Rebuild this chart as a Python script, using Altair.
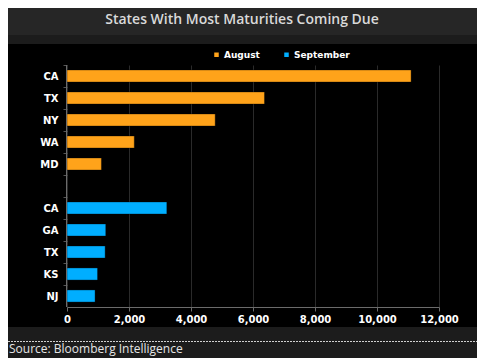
import altair as alt
import pandas as pd

title_text = "States With Most Maturities Coming Due"
source_text = "Source: Bloomberg Intelligence"
months = ["August", "September"]
month_colors = ["#FFA31A", "#00AEFF"]
aug_states = ["CA", "TX", "NY", "WA", "MD"]
aug_values = [11100, 6370, 4780, 2170, 1110]
sep_states = ["CA", "GA", "TX", "KS", "NJ"]
sep_values = [3220, 1250, 1230, 985, 905]
x_ticks = [0, 2000, 4000, 6000, 8000, 10000, 12000]

rows = []
for s, v in zip(aug_states, aug_values):
    rows.append({"key": s, "month": "August", "value": v})
for s, v in zip(sep_states, sep_values):
    rows.append({"key": s + " ", "month": "September", "value": v})
df = pd.DataFrame(rows)
y_domain = list(aug_states) + [" "] + [s + " " for s in sep_states]

W, H = 372, 242
PAD = {"left": 59, "top": 57, "right": 38, "bottom": 51}
LABEL_FONT = "DejaVu Sans"
one = pd.DataFrame({"a": [1]})

x_axis = alt.Axis(values=x_ticks, format=",d", grid=True, gridColor="#2a2a2a",
                  domainColor="#6b6b6b", tickColor="#6b6b6b", tickSize=4,
                  labelColor="#ffffff", labelFont=LABEL_FONT, labelFontWeight="bold",
                  labelFontSize=10, labelPadding=3, title=None, labelFlush=False)

y_axis = alt.Axis(title=None, tickSize=4, tickOffset=-11, labelOffset=11,
                  tickColor="#555555", domain=False,
                  labelColor="#ffffff", labelFont=LABEL_FONT, labelFontWeight="bold",
                  labelFontSize=10, labelPadding=5, grid=False)

bars = alt.Chart(df).mark_bar(stroke="#000000", strokeOpacity=0.35, strokeWidth=1).encode(
    x=alt.X("value:Q", scale=alt.Scale(domain=[0, 12000]), axis=x_axis),
    y=alt.Y("key:N", sort=y_domain,
            scale=alt.Scale(domain=y_domain, paddingInner=0.45, paddingOuter=0.225),
            axis=y_axis),
    color=alt.Color("month:N", scale=alt.Scale(domain=months, range=month_colors),
                    legend=alt.Legend(orient="none", legendX=145, legendY=-15,
                                      direction="horizontal", title=None,
                                      symbolType="square", symbolSize=36,
                                      labelColor="#ffffff", labelFont=LABEL_FONT,
                                      labelFontWeight="bold", labelFontSize=9,
                                      labelOffset=3, columnPadding=20)),
)

def band(x1, x2, y1, y2, color):
    return alt.Chart(one).mark_rect(color=color).encode(
        x=alt.value(x1), x2=alt.value(x2), y=alt.value(y1), y2=alt.value(y2))

title_strip = band(-59, 410, -57, -30, "#262626")
gap_strip = band(-59, 410, -30, -21, "#1c1c1c")
bottom_strip = band(-59, 410, 262, 293, "#1c1c1c")

y_domain_line = alt.Chart(one).mark_rule(color="#6b6b6b", strokeWidth=1).encode(
    x=alt.value(-0.5), y=alt.value(0), y2=alt.value(H))

title = alt.Chart(one).mark_text(
    text=title_text, font="Open Sans", fontSize=14, fontWeight=600, color="#d9d9d9",
    align="center", baseline="middle").encode(x=alt.value(175), y=alt.value(-45))

dotted = alt.Chart(one).mark_rule(color="#d0d0d0", strokeDash=[2, 1], strokeWidth=1).encode(
    x=alt.value(-59), x2=alt.value(410), y=alt.value(276.5))

source = alt.Chart(one).mark_text(
    text=source_text, font="Open Sans", fontSize=12, color="#e6e6e6",
    align="left", baseline="middle").encode(x=alt.value(-58), y=alt.value(284))

chart = alt.layer(bars, y_domain_line, title_strip, gap_strip, bottom_strip,
                  title, dotted, source).properties(
    width=W, height=H, padding=PAD, autosize=alt.AutoSizeParams(type="none")
).configure(background="#000000").configure_view(stroke="transparent")

chart.save("out.html", embed_options={"renderer": "svg", "actions": False})
